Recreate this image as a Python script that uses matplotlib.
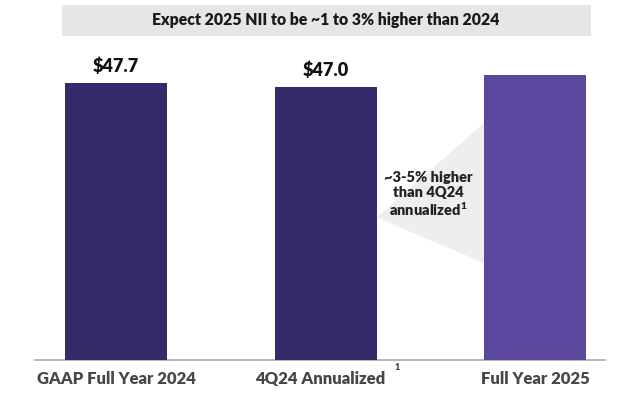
import matplotlib.pyplot as plt
from matplotlib.patches import Rectangle, Polygon

# NII, $ billions
categories = ["GAAP Full Year 2024", "4Q24 Annualized   ", "Full Year 2025"]
values = [47.7, 47.0, 49.1]
value_labels = ["$47.7", "$47.0", ""]
bar_colors = ["#352b6a", "#352b6a", "#5b479c"]
title = "Expect 2025 NII to be ~1 to 3% higher than 2024"
note = "~3-5% higher\nthan 4Q24\nannualized$^{1}$"

plt.rcParams['font.family'] = ['Lato', 'DejaVu Sans']
plt.rcParams['mathtext.fontset'] = 'custom'
plt.rcParams['mathtext.bf'] = 'Lato:heavy'
plt.rcParams['mathtext.rm'] = 'Lato:heavy'
plt.rcParams['mathtext.default'] = 'bf'
WT = "heavy"

W, H = 620, 395
fig = plt.figure(figsize=(W / 100, H / 100), dpi=100)
# axes in pixel terms: x 35..605, baseline at y=360, top at y=5
ax = fig.add_axes([35 / W, 35 / H, 570 / W, 355 / H])

x = list(range(len(categories)))
width = 0.487
ax.bar(x, values, width=width, color=bar_colors, zorder=3)
ax.set_xlim(-0.387, 2.334)
ax.set_ylim(0, 61.1)

for xi, v, lab in zip(x, values, value_labels):
    if lab:
        ax.annotate(lab, (xi, v), xytext=(0, 6), textcoords="offset points",
                    ha="center", va="bottom", fontsize=13, fontweight=WT,
                    color="#111111")

# grey wedge between the annualized bar and 2025 bar
left = x[1] + width / 2
right = x[2] - width / 2
tri = Polygon([(left, values[2] * 0.50), (right, values[2] * 0.83),
               (right, values[2] * 0.34)], closed=True,
              facecolor="#eeeeee", edgecolor="none", zorder=1)
ax.add_patch(tri)
ax.text((left + right) / 2 - 0.01, values[2] * 0.58, note, ha="center", va="center",
        fontsize=10.5, fontweight=WT, color="#222222", linespacing=1.15, zorder=4)

ax.set_xticks(x)
ax.set_xticklabels(categories, fontsize=12, fontweight=WT, color="#474747")
ax.tick_params(axis="x", length=0, pad=8)
ax.set_yticks([])
for s in ["top", "left", "right"]:
    ax.spines[s].set_visible(False)
ax.spines["bottom"].set_color("#b0b0b0")
ax.spines["bottom"].set_linewidth(1.3)
# footnote mark on the annualized label
fig.text(397 / W, 1 - 367 / H, "1", fontsize=6.5, fontweight=WT, color="#474747",
         ha="center", va="center")

# title banner
fig.patches.append(Rectangle((62 / W, 1 - 36 / H), 529 / W, 31 / H,
                             transform=fig.transFigure, facecolor="#e6e6e6",
                             edgecolor="none"))
fig.text(326 / W, 1 - 20.5 / H, title, ha="center", va="center", fontsize=11.3,
         fontweight=WT, color="#1a1a1a")

fig.savefig("out.png", dpi=100)
